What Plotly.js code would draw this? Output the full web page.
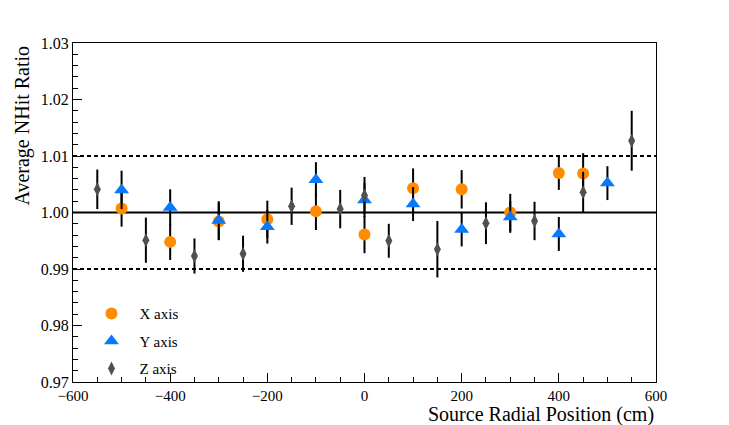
<!DOCTYPE html>
<html>
<head>
<meta charset="utf-8">
<script src="https://cdn.plot.ly/plotly-3.0.1.min.js"></script>
<style>html,body{margin:0;padding:0;background:#fff;}#chart{width:729px;height:425px;}</style>
</head>
<body>
<div id="chart"></div>
<script>
// X axis scan
var xPos = [-500, -400, -300, -200, -100, 0, 100, 200, 300, 400, 450];
var xVal = [1.0007, 0.9948, 0.9984, 0.9988, 1.0002, 0.9961, 1.0043, 1.0041, 1.0000, 1.0070, 1.0069];
var xErr = [0.0032, 0.0032, 0.0033, 0.0033, 0.0033, 0.0033, 0.0035, 0.0034, 0.0033, 0.0030, 0.0036];
// Y axis scan
var yPos = [-500, -400, -300, -200, -100, 0, 100, 200, 300, 400, 500];
var yVal = [1.0040, 1.0009, 0.9986, 0.9975, 1.0058, 1.0022, 1.0015, 0.9970, 0.9992, 0.9962, 1.0052];
var yErr = [0.0034, 0.0032, 0.0034, 0.0030, 0.0031, 0.0030, 0.0030, 0.0030, 0.0028, 0.0030, 0.0030];
// Z axis scan
var zPos = [-550, -450, -350, -250, -150, -50, 0, 50, 150, 250, 350, 450, 550];
var zVal = [1.0041, 0.9951, 0.9923, 0.9927, 1.0011, 1.0006, 1.0030, 0.9950, 0.9935, 0.9981, 0.9985, 1.0036, 1.0127];
var zErr = [0.0035, 0.0040, 0.0031, 0.0032, 0.0033, 0.0034, 0.0033, 0.0030, 0.0050, 0.0037, 0.0034, 0.0036, 0.0053];

var seriesNames = ['X axis', 'Y axis', 'Z axis'];
var refLine = 1.00;
var bandLines = [0.99, 1.01];

var serif = 'Liberation Serif';

function errObj(arr) {
  return {type: 'data', array: arr, visible: true, color: '#000', thickness: 2, width: 0};
}

var traces = [
  {x: xPos, y: xVal, error_y: errObj(xErr), type: 'scatter', mode: 'markers', name: seriesNames[0], legendgroup: 'x',
   marker: {symbol: 'circle', size: 12, color: 'rgb(255,140,0)', line: {width: 0}}},
  {x: yPos, y: yVal, error_y: errObj(yErr), type: 'scatter', mode: 'markers', name: seriesNames[1], legendgroup: 'y',
   marker: {symbol: 'triangle-up', size: 13, color: 'rgb(10,120,250)', line: {width: 0}}},
  {x: zPos, y: zVal, error_y: errObj(zErr), type: 'scatter', mode: 'markers', name: seriesNames[2], legendgroup: 'z',
   marker: {symbol: 'diamond-tall', size: 10, color: 'rgb(80,80,80)', line: {width: 0}}}
];

var shapes = [{type: 'line', xref: 'paper', x0: 0, x1: 1, yref: 'y', y0: refLine, y1: refLine,
               line: {color: '#000', width: 2}, layer: 'below'}];
bandLines.forEach(function (v) {
  shapes.push({type: 'line', xref: 'paper', x0: 0, x1: 1, yref: 'y', y0: v, y1: v,
               line: {color: '#000', width: 2, dash: '4px,3px'}, layer: 'below'});
});

var layout = {
  width: 729, height: 425,
  margin: {l: 73, r: 73, t: 43, b: 43, pad: 0},
  paper_bgcolor: '#fff', plot_bgcolor: '#fff',
  font: {family: serif, size: 15, color: '#000'},
  showlegend: true,
  legend: {x: 0.018, y: 0.25, xanchor: 'left', yanchor: 'top', bgcolor: 'rgba(0,0,0,0)',
           font: {family: serif, size: 15, color: '#000'}, tracegroupgap: 5, itemwidth: 46},
  xaxis: {range: [-600, 600], dtick: 200, tick0: -600, ticks: 'inside', ticklen: 9, tickwidth: 1, tickcolor: '#000',
          showline: true, linecolor: '#000', linewidth: 1, mirror: true, showgrid: false, zeroline: false,
          minor: {dtick: 50, ticks: 'inside', ticklen: 5, tickwidth: 1, tickcolor: '#000', showgrid: false},
          tickfont: {family: serif, size: 15, color: '#000'}},
  yaxis: {range: [0.97, 1.03], dtick: 0.01, tick0: 0.97, tickformat: '.2f', ticks: 'inside', ticklen: 9, tickwidth: 1, tickcolor: '#000',
          showline: true, linecolor: '#000', linewidth: 1, mirror: true, showgrid: false, zeroline: false,
          minor: {dtick: 0.002, ticks: 'inside', ticklen: 5, tickwidth: 1, tickcolor: '#000', showgrid: false},
          tickfont: {family: serif, size: 16, color: '#000'}},
  shapes: shapes,
  annotations: [
    {text: 'Source Radial Position (cm)', xref: 'paper', yref: 'paper', x: 1, y: 0, xanchor: 'right', yanchor: 'top',
     yshift: -19, showarrow: false, font: {family: serif, size: 20, color: '#000'}},
    {text: 'Average NHit Ratio', xref: 'paper', yref: 'paper', x: 0, y: 1, xanchor: 'right', yanchor: 'top',
     xshift: -38, showarrow: false, textangle: -90, font: {family: serif, size: 20, color: '#000'}}
  ]
};

Plotly.newPlot('chart', traces, layout, {displayModeBar: false, staticPlot: true});
</script>
</body>
</html>
